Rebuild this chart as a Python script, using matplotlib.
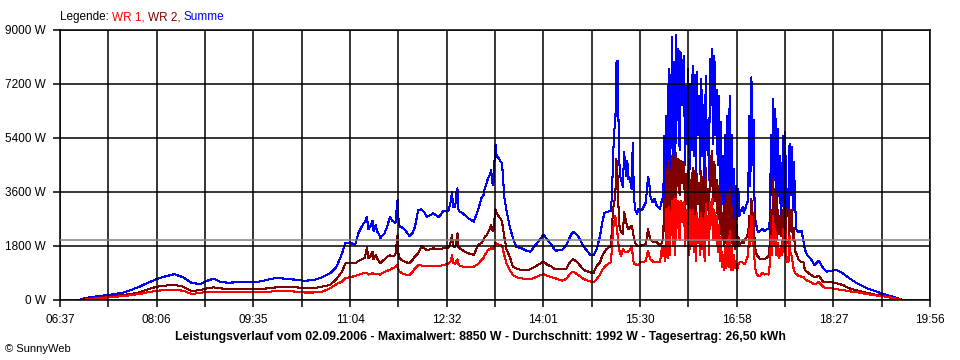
import matplotlib.pyplot as plt
import numpy as np

plt.rcParams['font.family'] = ['Liberation Sans', 'DejaVu Sans']

# Uhrzeit in Minuten seit Mitternacht (06:37 = 397)
minuten = [
    415, 420, 428, 435, 441, 448, 455, 462, 470, 478, 486, 494, 502, 510, 518, 526, 532, 538, 544, 550,
    558, 566, 574, 582, 590, 598, 606, 614, 622, 630, 638, 645, 651, 656, 659, 663, 668,
    671, 674, 677, 679, 680, 682, 684, 685, 687, 688, 690, 691, 693, 695, 698, 700, 702, 705, 707, 708,
    709, 712, 714, 718, 721, 723, 726, 729, 732, 734, 737, 740, 745, 749, 752, 754, 756, 757, 758, 760,
    761, 762, 763, 764, 767, 772, 777, 781, 784, 786, 787, 789, 790, 792, 793, 794, 795, 796, 797, 798,
    800, 802, 803, 805, 807, 810, 813, 816, 821, 825, 829, 835, 841, 845, 848, 852, 858, 862, 866, 868,
    871, 873, 878, 884, 887, 890, 893,
    895, 897, 899, 901, 903, 904, 905, 906, 907, 908, 909, 910, 911, 912, 913, 914, 915, 916, 917, 918,
    919, 920, 921, 922, 923, 924, 925, 927, 928, 930, 932, 935, 937, 938, 939, 941, 943, 945, 948, 950,
    951, 952, 953, 954, 955, 956, 957, 958, 959, 960, 961, 962, 963, 964, 965, 966, 967, 968, 969, 970,
    971, 972, 973, 974, 975, 976, 977, 978, 979, 980, 981, 982, 983, 984, 985, 986, 987, 988, 989, 990,
    991, 992, 993, 994, 995, 996, 997, 998, 999, 1000, 1001, 1002, 1003, 1004, 1005, 1006, 1007, 1008,
    1009, 1010, 1011, 1012, 1013, 1014, 1015, 1016, 1017, 1018, 1019,
    1020, 1021, 1022, 1023, 1024, 1025, 1026, 1027, 1028, 1029, 1030, 1031, 1032, 1033, 1034, 1035,
    1036, 1037, 1038, 1040, 1042, 1044, 1046, 1048, 1049, 1050, 1051, 1052, 1053, 1054, 1055, 1056,
    1057, 1058, 1059, 1060, 1061, 1062, 1063, 1064, 1065, 1066, 1067, 1068, 1069, 1070, 1071, 1072,
    1073, 1075, 1078, 1080, 1081, 1083, 1086,
    1090, 1094, 1098, 1101, 1106, 1110, 1116, 1122, 1129, 1138, 1147, 1156, 1165, 1171,
]

# WR 1 (W)
wr1 = [
    0, 15, 45, 70, 89, 110, 130, 160, 200, 260, 311, 325, 333, 311, 200, 240, 278, 270, 260, 256,
    256, 256, 256, 256, 280, 300, 300, 278, 250, 250, 278, 389, 533, 611, 722, 756, 800,
    833, 870, 911, 900, 850, 870, 900, 856, 880, 860, 856, 850, 900, 930, 980, 1000, 1050, 1100, 1167, 1000,
    944, 880, 850, 833, 950, 1050, 1167, 1150, 1133, 1133, 1140, 1133, 1133, 1160, 1200, 1222, 1300, 1500, 1250, 1200,
    1300, 1350, 1200, 1150, 1111, 1111, 1111, 1200, 1333, 1400, 1500, 1600, 1667, 1700, 1722, 1700, 1722, 1800, 1911, 1880,
    1850, 1833, 1800, 1500, 1222, 1000, 833, 760, 722, 700, 689, 780, 867, 800, 760, 722, 644, 700, 900, 944,
    880, 833, 700, 620, 590, 700, 850,
    1000, 1100, 1167, 1220, 1256, 1800, 2367, 2600, 2811, 2500, 2200, 1811, 1600, 1478, 1550, 1700, 1650, 1589, 1600, 1589,
    1644, 1644, 1700, 1811, 1500, 1200, 1200, 1167, 1167, 1256, 1256, 1311, 1644, 1500, 1367, 1300, 1256, 1256, 1256, 1811,
    1478, 1811, 1300, 3033, 1400, 3100, 1500, 2500, 3300, 1800, 3367, 1500, 3367, 2400, 3300, 2000, 3300, 2600, 3200, 3256,
    1800, 3000, 2000, 2400, 1500, 3000, 1800, 3000, 1600, 2800, 1300, 2900, 1900, 2700, 1500, 2900, 1700, 2600, 1300, 3200,
    2000, 2800, 1500, 3256, 2500, 3367, 2000, 3000, 2000, 2800, 1600, 2500, 1300, 2100, 1100, 1500, 1000, 1800,
    1050, 2000, 1100, 2300, 1000, 1800, 1000, 1500, 1050, 1200, 1000,
    1200, 1250, 1256, 1256, 1250, 1200, 1200, 1300, 1400, 1478, 2367, 1800, 2811, 2000, 1800, 1256,
    922, 850, 811, 811, 900, 850, 870, 850, 1256, 2144, 1500, 2811, 1800, 2367, 1500, 1900,
    1400, 1478, 1800, 1500, 2367, 1600, 2589, 1478, 1256, 1256, 2144, 1500, 1478, 1200, 1000, 900,
    870, 811, 778, 760, 700, 650, 611,
    520, 600, 430, 400, 389, 360, 333, 290, 260, 200, 150, 111, 40, 0,
]

# WR 2 (W)
wr2 = [
    0, 30, 60, 90, 111, 140, 165, 200, 256, 360, 444, 480, 510, 444, 300, 330, 389, 422, 390, 367,
    367, 370, 370, 367, 400, 430, 444, 420, 400, 389, 450, 500, 700, 944, 1222, 1222, 1222,
    1300, 1350, 1400, 1778, 1400, 1450, 1600, 1350, 1500, 1400, 1300, 1222, 1300, 1350, 1450, 1500, 1450, 1500, 2167, 1450,
    1389, 1300, 1270, 1222, 1350, 1450, 1556, 1800, 1700, 1667, 1690, 1722, 1700, 1722, 1722, 1760, 1950, 2167, 1800, 1760,
    2000, 2222, 1760, 1722, 1650, 1556, 1500, 1833, 1900, 2000, 2100, 2167, 2250, 2400, 2500, 2350, 2300, 2700, 3022, 2900,
    2778, 2700, 2600, 2111, 1700, 1444, 1111, 1050, 1000, 1000, 1022, 1150, 1278, 1167, 1120, 1022, 1022, 1050, 1300, 1356,
    1300, 1222, 1000, 922, 900, 1150, 1256,
    1478, 1600, 1700, 1750, 1811, 2500, 3033, 3256, 3500, 4700, 4144, 3000, 2367, 2300, 2250, 2200, 2922, 2800, 2589, 2450,
    2367, 2400, 2450, 2478, 2300, 2089, 1900, 1811, 1811, 1811, 1830, 1867, 2367, 2200, 2033, 1950, 1922, 1922, 1811, 1900,
    2144, 3367, 2300, 4367, 2400, 4589, 2600, 3500, 4800, 2800, 4700, 2500, 4900, 3800, 4700, 3500, 4650, 3900, 4600, 4500,
    3000, 4200, 3200, 4300, 2500, 4000, 3000, 4400, 2800, 4300, 2200, 4200, 3200, 3900, 2500, 4300, 2800, 3700, 2200, 4400,
    3000, 3700, 2500, 4800, 3800, 4978, 3200, 4600, 3300, 4000, 2700, 3800, 2200, 3500, 2000, 2900, 1800, 3200,
    1900, 3500, 2000, 3700, 1900, 3100, 1800, 2700, 1700, 2800, 1800,
    2100, 1800, 1900, 1900, 2000, 1900, 2033, 2000, 2150, 2200, 2800, 2500, 3367, 2700, 2900, 1900,
    1589, 1500, 1450, 1367, 1367, 1367, 1400, 1480, 1900, 3000, 2200, 4033, 2500, 3700, 2000, 3000,
    2200, 2800, 2144, 2200, 3000, 2200, 3478, 1900, 2000, 1900, 3000, 2300, 3000, 2000, 2400, 1600,
    1580, 1367, 1256, 1250, 1000, 944, 850,
    760, 800, 600, 585, 589, 560, 500, 389, 320, 240, 170, 111, 30, 0,
]

# Summe (W)
summe = [
    0, 60, 110, 140, 167, 200, 250, 330, 444, 580, 700, 790, 860, 760, 570, 530, 640, 710, 610, 580,
    585, 590, 600, 622, 700, 740, 690, 680, 640, 667, 760, 890, 1110, 1550, 1890, 1920, 1840,
    2222, 2444, 2611, 2778, 2350, 2450, 2650, 2300, 2500, 2300, 2200, 2056, 2150, 2222, 2500, 2778, 2650, 2556, 3333, 2600,
    2450, 2400, 2333, 2133, 2250, 2444, 3000, 3022, 2900, 2778, 2830, 2889, 2756, 2978, 2950, 3000, 3300, 3611, 3100, 3111,
    3600, 3722, 3000, 2944, 2889, 2722, 2611, 3000, 3389, 3500, 3722, 3900, 4056, 4200, 4333, 3900, 3833, 4600, 5167, 4800,
    4722, 4600, 4556, 3444, 3000, 2444, 2056, 1778, 1722, 1650, 1611, 1889, 2167, 2000, 1850, 1644, 1667, 1833, 2150, 2278,
    2200, 2111, 1778, 1500, 1500, 1700, 2144,
    2589, 2900, 2944, 2950, 2978, 3589, 4811, 5700, 5811, 7922, 7978, 5811, 4256, 4033, 3900, 3756, 4922, 4589, 4144, 4644,
    4033, 4089, 3900, 3700, 5233, 3589, 3033, 2867, 3033, 2980, 3033, 3256, 4089, 4000, 3478, 3256, 3367, 3144, 3033, 3367,
    3300, 5478, 3400, 6144, 3800, 7700, 4200, 5500, 8756, 4500, 7922, 4000, 8833, 6000, 8367, 5000, 8256, 6500, 7800, 8144,
    4500, 7144, 5200, 7700, 4000, 7200, 5000, 7811, 4800, 7500, 3800, 7589, 5500, 6800, 4200, 7367, 4800, 6500, 3500, 7478,
    5000, 6000, 4000, 8033, 6500, 8367, 5200, 8144, 5500, 7000, 4500, 6811, 3500, 5922, 3200, 4811, 2800, 5500,
    3000, 6144, 3300, 6811, 2900, 5500, 2600, 4367, 2500, 3811, 2700,
    3700, 2800, 3000, 2967, 3100, 2900, 3033, 3100, 3256, 3300, 6144, 3800, 7422, 4500, 6000, 2800,
    2589, 2400, 2256, 2300, 2367, 2300, 2350, 2367, 2700, 5500, 3500, 6700, 4000, 6367, 3000, 5700,
    3478, 4811, 2589, 3478, 5478, 3000, 5589, 2800, 3700, 2800, 5200, 3500, 5089, 3000, 4589, 3478,
    2367, 2256, 2311, 1922, 1700, 1500, 1400,
    1167, 1311, 1056, 944, 978, 1000, 889, 722, 556, 389, 278, 167, 78, 0,
]

x_start, x_ende = 397, 1196  # 06:37 bis 19:56
x_labels = ['06:37', '', '08:06', '', '09:35', '', '11:04', '', '12:32', '', '14:01', '',
            '15:30', '', '16:58', '', '18:27', '', '19:56']
y_ticks = [0, 1800, 3600, 5400, 7200, 9000]
y_labels = ['0 W', '1800 W', '3600 W', '5400 W', '7200 W', '9000 W']
durchschnitt = 1992

titel = ('Leistungsverlauf vom 02.09.2006 - Maximalwert: 8850 W - '
         'Durchschnitt: 1992 W - Tagesertrag: 26,50 kWh')

fig = plt.figure(figsize=(9.6, 3.6), dpi=100)
ax = fig.add_axes([60 / 960, 60 / 360, 870 / 960, 270 / 360])

ax.plot(minuten, summe, color='#0000ff', lw=0.75, antialiased=False)
ax.plot(minuten, wr2, color='#800000', lw=0.75, antialiased=False)
ax.plot(minuten, wr1, color='#ff0000', lw=0.75, antialiased=False)
ax.axhline(durchschnitt, color='#808080', lw=1.1, zorder=3)

ax.set_xlim(x_start, x_ende)
ax.set_ylim(0, 9000)
ax.set_xticks(np.linspace(x_start, x_ende, len(x_labels)))
ax.set_xticklabels(x_labels)
ax.set_yticks(y_ticks)
ax.set_yticklabels(y_labels)
ax.grid(True, color='black', lw=1.1)
ax.set_axisbelow(False)
ax.tick_params(axis='both', length=5, width=1.1, labelsize=8.5, colors='black')
ax.tick_params(axis='x', pad=5)
ax.tick_params(axis='y', pad=5)
for s in ax.spines.values():
    s.set_linewidth(1.1)

# Legende oben links, farbig hintereinander
renderer = fig.canvas.get_renderer()
x_pos = 60
for teil, farbe in [('Legende: ', 'black'), ('WR 1, ', '#ff0000'),
                    ('WR 2, ', '#800000'), ('Summe', '#0000ff')]:
    t = fig.text(x_pos / 960, 1 - 17 / 360, teil, color=farbe, fontsize=8.5,
                 va='center', ha='left')
    x_pos = t.get_window_extent(renderer).x1

fig.text(480 / 960, 1 - 337 / 360, titel, ha='center', va='center',
         fontsize=8.8, fontweight='bold')
fig.text(5 / 960, 1 - 349 / 360, '\u00a9 SunnyWeb', ha='left', va='center', fontsize=8)

fig.savefig('out.png', dpi=100)
